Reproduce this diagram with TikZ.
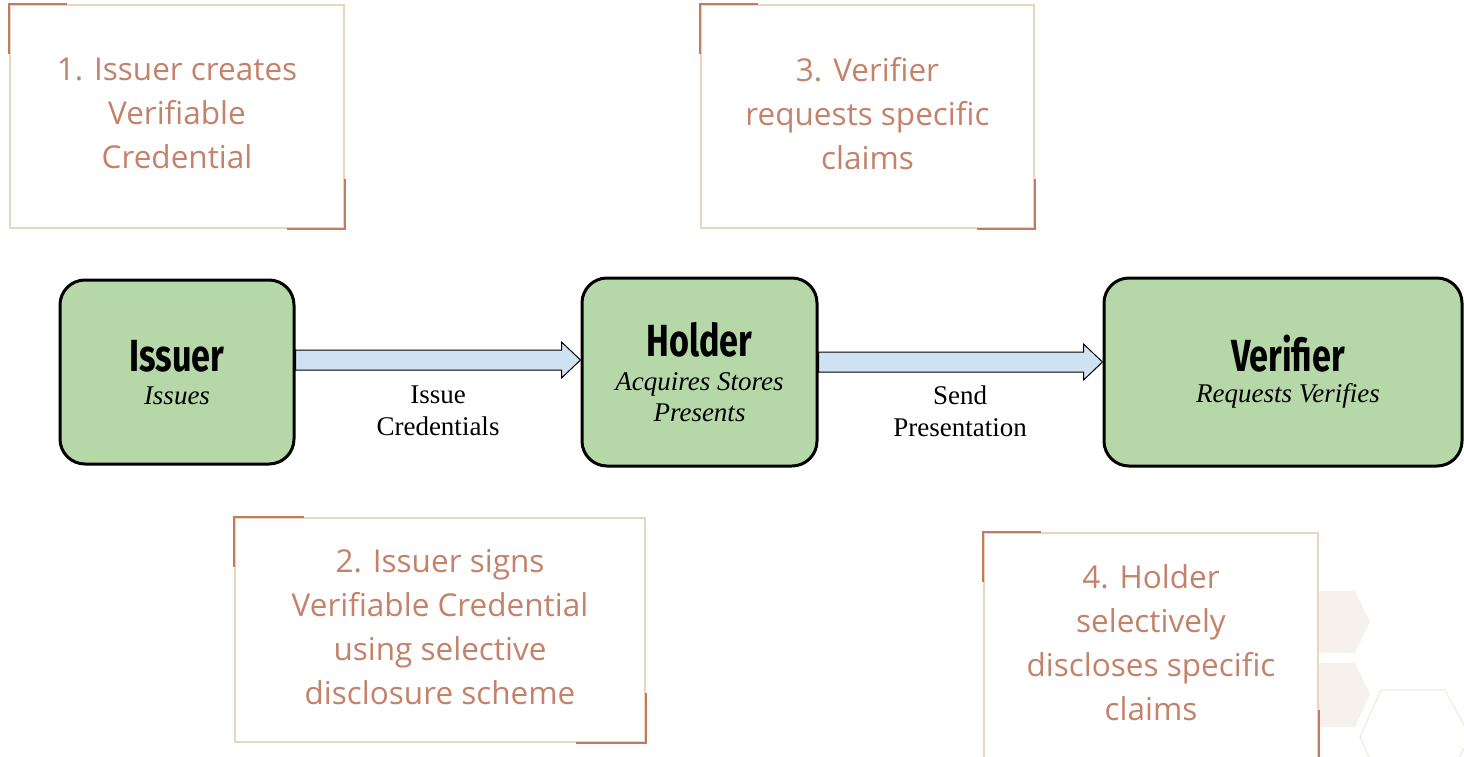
\documentclass[tikz,border=0pt]{standalone}
\usepackage{fontspec}
\setmainfont{Liberation Serif}
\newfontfamily\notefont{Open Sans}
\newfontfamily\titlefont{Fira Sans}[FakeStretch=0.76]
\usetikzlibrary{calc}
\definecolor{beige}{HTML}{E8D6BD}
\definecolor{rust}{HTML}{C27A60}
\definecolor{notetext}{HTML}{C4826A}
\definecolor{greenfill}{HTML}{B6D7A8}
\definecolor{bluefill}{HTML}{CFE2F3}
\definecolor{hexfill}{HTML}{F6F1EC}
\definecolor{hexline}{HTML}{F1EAE3}
\tikzset{
  actor/.style={draw=black, line width=3pt, fill=greenfill, rounded corners=25pt, align=center, inner sep=0pt},
  note/.style={draw=beige, line width=2pt, fill=white, align=center, text=notetext, font=\notefont\fontsize{31.5}{44}\selectfont, inner sep=0pt},
  notetxt/.style={align=center, text=notetext, font=\notefont\fontsize{31.5}{44}\selectfont, inner sep=0pt},
  accent/.style={draw=rust, line width=2.5pt},
  blockarrow/.style={draw=black, line width=1pt, fill=bluefill, line join=miter},
  edgelabel/.style={align=center, font=\fontsize{27}{32}\selectfont, inner sep=0pt},
  ttl/.style={font=\titlefont\bfseries\fontsize{45}{48}\selectfont, inner sep=0pt, text depth=0pt, anchor=base},
  sub/.style={align=center, font=\itshape\fontsize{27}{31}\selectfont, inner sep=0pt}
}
\begin{document}
\begin{tikzpicture}[x=1pt, y=-1pt]
\useasboundingbox (0,0) rectangle (1464,756);
% background hexagons
\fill[hexfill] (1300,591) -- (1355,591) -- (1370,622) -- (1355,653) -- (1300,653) -- cycle;
\fill[hexfill] (1300,663) -- (1355,663) -- (1370,694) -- (1355,727) -- (1300,727) -- cycle;
\draw[hexline, line width=1.2pt] (1381,690) -- (1445,690) -- (1470,737) -- (1445,784) -- (1381,784) -- (1360,737) -- cycle;

% note boxes
\node[note, minimum width=334pt, minimum height=223pt] (n1) at (177,116.5) {};
\node[note, minimum width=333pt, minimum height=223pt] (n3) at (867.5,116.5) {};
\node[note, minimum width=410pt, minimum height=224pt] (n2) at (440,630) {};
\node[note, minimum width=334pt, minimum height=226pt] (n4) at (1151,646) {};
\node[notetxt] (t1) at (177,113.5) {1. Issuer creates\\Verifiable\\Credential};
\node[notetxt] (t3) at (867.5,113.5) {3. Verifier\\requests specific\\claims};
\node[notetxt] (t2) at (440,627) {2. Issuer signs\\Verifiable Credential\\using selective\\disclosure scheme};
\node[notetxt] (t4) at (1151,643) {4. Holder\\selectively\\discloses specific\\claims};
\foreach \n/\w/\h in {n1/58/50, n3/58/50, n2/70/50, n4/58/50}{
  \draw[accent] ($(\n.north west)+(0,\h)$) -- (\n.north west) -- ($(\n.north west)+(\w,0)$);
  \draw[accent] ($(\n.south east)+(0,-\h)$) -- (\n.south east) -- ($(\n.south east)+(-\w,0)$);
}

% actors
\node[actor, minimum width=234pt, minimum height=184pt] (issuer) at (177,372) {};
\node[actor, minimum width=235pt, minimum height=188pt] (holder) at (699.5,372) {};
\node[actor, minimum width=358pt, minimum height=188pt] (verifier) at (1283,372) {};
\node[ttl] (it) at (177,371) {Issuer};
\node[sub] (is) at (177,396) {Issues};
\node[ttl] (ht) at (699.5,356) {Holder};
\node[sub] (hs) at (699.5,397) {Acquires Stores\\Presents};
\node[ttl] (vt) at (1288,371) {Verifier};
\node[sub] (vs) at (1288,396) {Requests Verifies};

% block arrows
\coordinate (a1s) at ($(issuer.east)+(0,-12)$);
\coordinate (a1e) at ($(holder.west)+(0,-12)$);
\draw[blockarrow] ($(a1s)+(0,-10)$) -- ($(a1e)+(-19,-10)$) -- ($(a1e)+(-19,-18)$) -- (a1e) -- ($(a1e)+(-19,18)$) -- ($(a1e)+(-19,10)$) -- ($(a1s)+(0,10)$) -- cycle;
\coordinate (a2s) at ($(holder.east)+(0,-10)$);
\coordinate (a2e) at ($(verifier.west)+(0,-10)$);
\draw[blockarrow] ($(a2s)+(0,-10)$) -- ($(a2e)+(-19,-10)$) -- ($(a2e)+(-19,-18)$) -- (a2e) -- ($(a2e)+(-19,18)$) -- ($(a2e)+(-19,10)$) -- ($(a2s)+(0,10)$) -- cycle;

\node[edgelabel] (l1) at (438,411) {Issue\\Credentials};
\node[edgelabel] (l2) at (960,411) {Send\\Presentation};
\end{tikzpicture}
\end{document}
